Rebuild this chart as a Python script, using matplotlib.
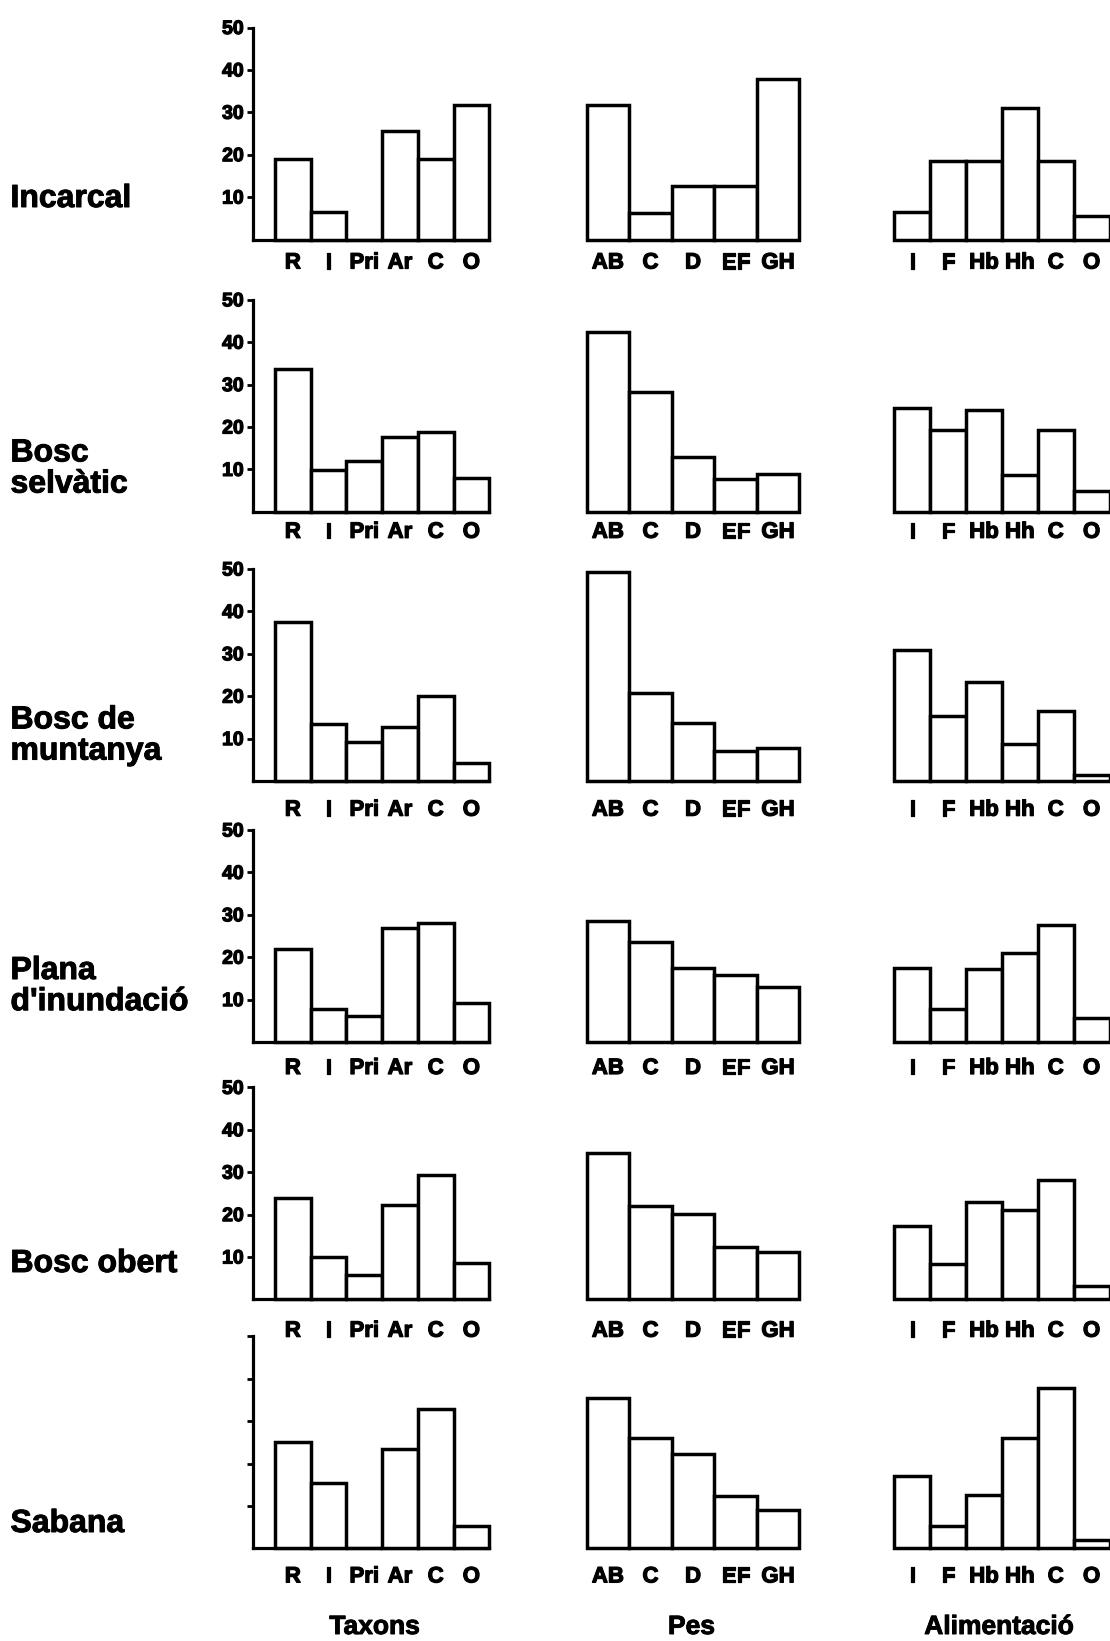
import matplotlib
matplotlib.use("Agg")
import matplotlib.pyplot as plt
import matplotlib.patheffects as pe

plt.rcParams["font.family"] = ["Liberation Sans", "DejaVu Sans"]
plt.rcParams["font.weight"] = "bold"

# Categories
habitats = ["Incarcal", "Bosc\nselvàtic", "Bosc de\nmuntanya",
            "Plana\nd'inundació", "Bosc obert", "Sabana"]
taxon_labels = ["R", "I", "Pri", "Ar", "C", "O"]
pes_labels = ["AB", "C", "D", "EF", "GH"]
alim_labels = ["I", "F", "Hb", "Hh", "C", "O"]
group_titles = ["Taxons", "Pes", "Alimentació"]
y_ticks = [10, 20, 30, 40, 50]

# Percentages per habitat: taxonomic groups
taxons_incarcal = [19, 6.4, 0, 25.7, 19, 31.7]
taxons_selvatic = [33.7, 9.8, 12, 17.6, 18.8, 8]
taxons_muntanya = [37.5, 13.5, 9.3, 12.8, 20, 4.3]
taxons_plana = [21.9, 7.7, 6.1, 27, 28, 9.1]
taxons_obert = [24, 9.9, 5.7, 22.2, 29.4, 8.6]
taxons_sabana = [25.2, 15.5, 0, 23.5, 32.8, 5.2]

# Body-weight classes
pes_incarcal = [31.7, 6.2, 12.6, 12.6, 37.9]
pes_selvatic = [42.3, 28.3, 13, 7.8, 8.8]
pes_muntanya = [49.3, 20.8, 13.7, 7, 7.8]
pes_plana = [28.5, 23.5, 17.5, 15.8, 12.9]
pes_obert = [34.6, 22, 20.2, 12.3, 11.1]
pes_sabana = [35.5, 26, 22.3, 12.3, 9]

# Feeding categories
alim_incarcal = [6.4, 18.5, 18.5, 31, 18.5, 5.6]
alim_selvatic = [24.5, 19.3, 24, 8.6, 19.3, 4.8]
alim_muntanya = [31, 15.4, 23.3, 8.7, 16.6, 1.3]
alim_plana = [17.4, 7.9, 17.2, 21.1, 27.7, 5.7]
alim_obert = [17.3, 8.4, 23, 21.2, 28.1, 3.2]
alim_sabana = [17, 5.2, 12.5, 26, 37.8, 2]

taxons = [taxons_incarcal, taxons_selvatic, taxons_muntanya,
          taxons_plana, taxons_obert, taxons_sabana]
pes = [pes_incarcal, pes_selvatic, pes_muntanya,
       pes_plana, pes_obert, pes_sabana]
alim = [alim_incarcal, alim_selvatic, alim_muntanya,
        alim_plana, alim_obert, alim_sabana]

# Layout (pixels)
W, H = 1110, 1641
fig = plt.figure(figsize=(W / 100, H / 100), dpi=100)


def fx(px):
    return px / W


def fy(py):
    return 1 - py / H


# Heavier strokes for the printed-look lettering
heavy_small = [pe.withStroke(linewidth=0.9, foreground="black")]
heavy_large = [pe.withStroke(linewidth=0.7, foreground="black")]

baselines = [239.5, 511.8, 781, 1042, 1299.4, 1548.4]
axis_height = 212
label_offsets = [21, 18, 26.7, 24, 29.3, 26]
row_label_y = [199, 469, 736, 986.6, 1264, 1524]

columns = [
    (252.7, 489.2, (-1.125, 5.5), taxon_labels, taxons),
    (586.7, 799.3, (-0.5, 4.5), pes_labels, pes),
    (894.3, 1109.5, (-0.5, 5.5), alim_labels, alim),
]

for r in range(len(habitats)):
    base = baselines[r]
    for c, (left, right, xlim, labels, data) in enumerate(columns):
        ax = fig.add_axes([fx(left), fy(base), fx(right - left), axis_height / H])
        values = data[r]
        ax.bar(range(len(values)), values, width=1.0, color="white",
               edgecolor="black", linewidth=2.5, clip_on=False, zorder=3)
        ax.set_xlim(*xlim)
        ax.set_ylim(0, 50)
        ax.patch.set_visible(False)
        for s in ["top", "right"]:
            ax.spines[s].set_visible(False)
        ax.set_xticks(range(len(labels)))
        ax.set_xticklabels(labels, fontsize=16, fontweight="bold")
        for t in ax.get_xticklabels():
            t.set_path_effects(heavy_small)
        pad_pt = (label_offsets[r] - 8) * 0.72
        ax.tick_params(axis="x", length=0, pad=pad_pt)
        if c == 0:
            ax.spines["left"].set_linewidth(2.3)
            ax.spines["bottom"].set_linewidth(2.3)
            ax.set_yticks(y_ticks)
            if r < len(habitats) - 1:
                ax.set_yticklabels([str(t) for t in y_ticks],
                                   fontsize=14, fontweight="bold")
                for t in ax.get_yticklabels():
                    t.set_path_effects(heavy_small)
            else:
                ax.set_yticklabels([])
            ax.tick_params(axis="y", direction="out", length=4.5,
                           width=2.0, pad=2)
        else:
            ax.spines["left"].set_visible(False)
            ax.spines["bottom"].set_visible(False)
            ax.set_yticks([])

    fig.text(fx(10.5), fy(row_label_y[r]), habitats[r], ha="left",
             va="center", fontsize=23, fontweight="bold", linespacing=1.05,
             path_effects=heavy_large)

for title, xc in zip(group_titles, [374.5, 691.5, 999]):
    fig.text(fx(xc), fy(1627), title, ha="center", va="center",
             fontsize=19, fontweight="bold", path_effects=heavy_large)

fig.savefig("out.png", dpi=100, facecolor="white")
